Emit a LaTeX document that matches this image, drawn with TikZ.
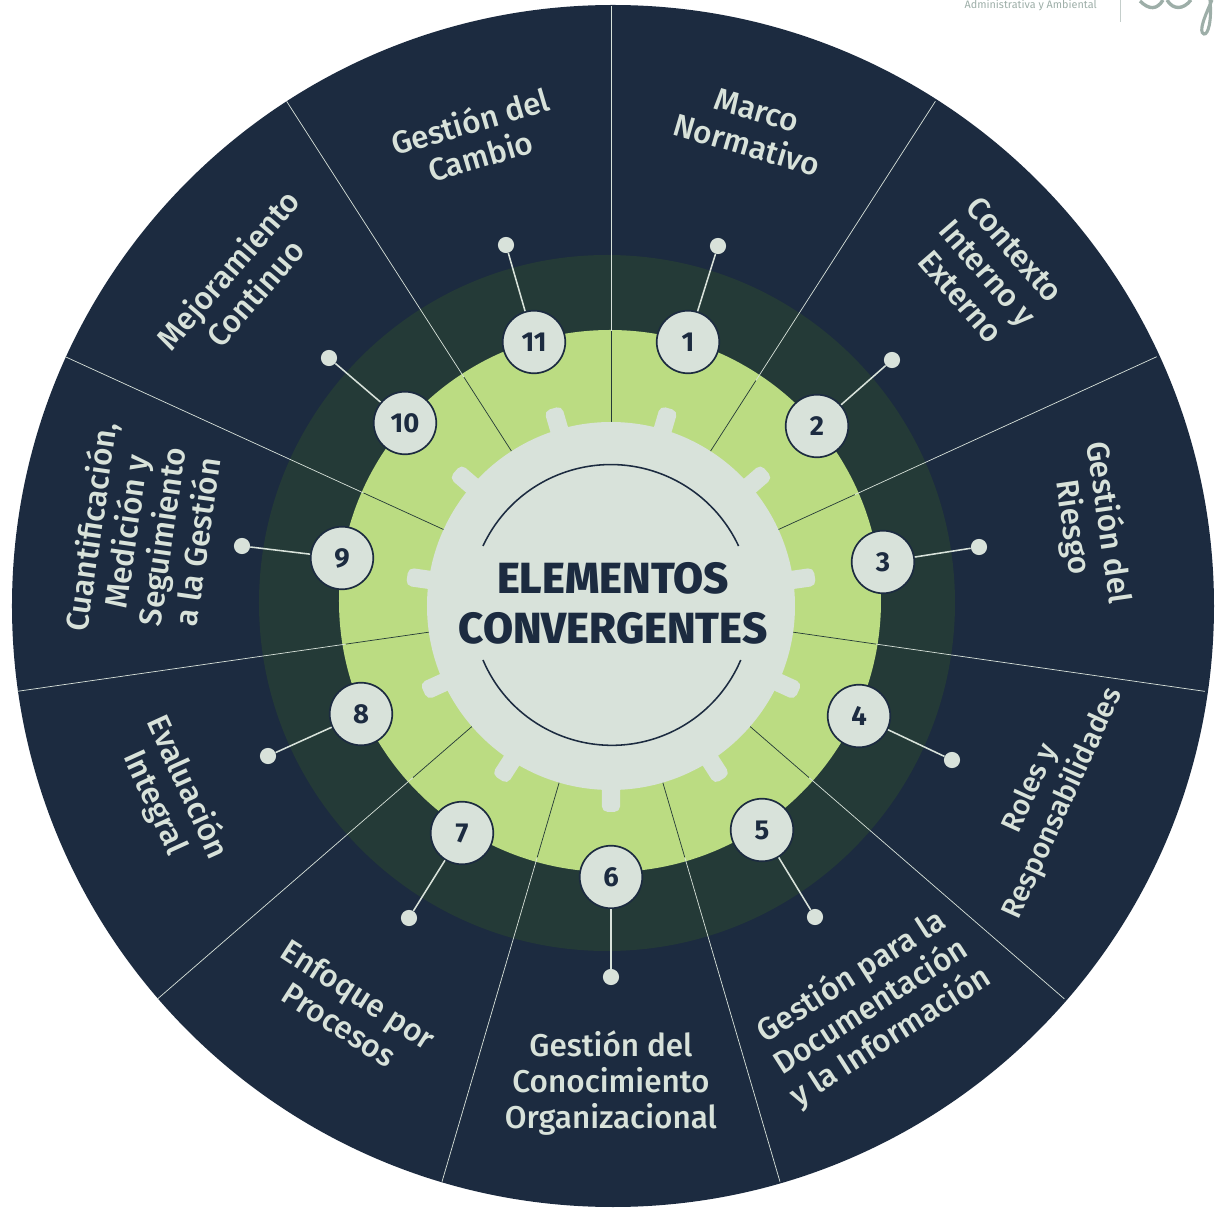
\documentclass[tikz,border=0pt]{standalone}
\usepackage{fontspec}
\setmainfont{Fira Sans}
\newfontfamily\medfont{Fira Sans Medium}
\newfontfamily\heavyfont{Fira Sans ExtraBold}
\definecolor{navy}{HTML}{1C2B40}
\definecolor{darkgreen}{HTML}{243A37}
\definecolor{lime}{HTML}{BBDC82}
\definecolor{pale}{HTML}{D8E2DA}
\definecolor{logogrey}{HTML}{9DAEA8}
\tikzset{
  numbered/.style={circle, draw=navy, fill=pale, line width=1.2pt, minimum size=44.5pt, inner sep=0pt, text=navy, font=\bfseries\fontsize{19.5}{19.5}\selectfont},
  pin/.style={circle, fill=pale, minimum size=11.5pt, inner sep=0pt},
  pinline/.style={draw=pale, line width=1.1pt},
  tooth/.style={fill=pale, rectangle, rounded corners=4pt, minimum width=34pt, minimum height=13pt, inner sep=0pt},
  divider/.style={draw=pale, line width=0.5pt},
  dividerin/.style={draw=darkgreen, line width=0.5pt},
  sector/.style={text=pale, align=center, font=\medfont\fontsize{22.4}{25.5}\selectfont},
}
\begin{document}
\begin{tikzpicture}[x=0.025cm,y=0.025cm]
\useasboundingbox (-611,-604) rectangle (607,606);
% discs
\fill[navy] (2,0) circle (601);
\fill[darkgreen] (-4,3) circle (348);
\fill[lime] (-1,5) circle (271);
% dividers
\draw[divider] (90:275) -- (90:600);
\draw[divider] (57.27:268) -- (57.27:600);
\draw[divider] (24.55:268) -- (24.55:600);
\draw[divider] (-8.18:268) -- (-8.18:600);
\draw[divider] (-40.91:262) -- (-40.91:600);
\draw[divider] (-73.64:262) -- (-73.64:600);
\draw[divider] (-106.36:262) -- (-106.36:600);
\draw[divider] (-139.09:262) -- (-139.09:600);
\draw[divider] (-171.82:268) -- (-171.82:600);
\draw[divider] (155.45:272) -- (155.45:600);
\draw[divider] (122.73:272) -- (122.73:600);
\draw[dividerin] (90:180) -- (90:275);
\draw[dividerin] (57.27:180) -- (57.27:268);
\draw[dividerin] (24.55:180) -- (24.55:268);
\draw[dividerin] (-8.18:180) -- (-8.18:268);
\draw[dividerin] (-40.91:180) -- (-40.91:262);
\draw[dividerin] (-73.64:180) -- (-73.64:262);
\draw[dividerin] (-106.36:180) -- (-106.36:262);
\draw[dividerin] (-139.09:180) -- (-139.09:262);
\draw[dividerin] (-171.82:180) -- (-171.82:268);
\draw[dividerin] (155.45:180) -- (155.45:272);
\draw[dividerin] (122.73:180) -- (122.73:272);
% gear
\node[tooth, rotate=-90] (t1) at (-90:182) {};
\node[tooth, rotate=-57.27] (t2) at (-57.27:182) {};
\node[tooth, rotate=-24.55] (t3) at (-24.55:182) {};
\node[tooth, rotate=8.18] (t4) at (8.18:182) {};
\node[tooth, rotate=40.91] (t5) at (40.91:182) {};
\node[tooth, rotate=73.64] (t6) at (73.64:182) {};
\node[tooth, rotate=106.36] (t7) at (106.36:182) {};
\node[tooth, rotate=139.09] (t8) at (139.09:182) {};
\node[tooth, rotate=171.82] (t9) at (171.82:182) {};
\node[tooth, rotate=204.55] (t10) at (204.55:182) {};
\node[tooth, rotate=237.27] (t11) at (237.27:182) {};
\fill[pale] (0,0) circle (184);
\draw[navy, line width=1.1pt] (-128,60) arc (155:25:141);
\draw[navy, line width=1.1pt] (-128,-54) arc (-157:-23:140);
\node[text=navy, align=center, font=\heavyfont\fontsize{31}{35.5}\selectfont] (title) at (2,3) {ELEMENTOS\\CONVERGENTES};
% pins and numbers
\node[pin] (p1) at (107,360) {};
\node[pin] (p2) at (281,246) {};
\node[pin] (p3) at (368,59) {};
\node[pin] (p4) at (341,-154) {};
\node[pin] (p5) at (204,-311) {};
\node[pin] (p6) at (0,-371) {};
\node[pin] (p7) at (-202,-312) {};
\node[pin] (p8) at (-343,-150) {};
\node[pin] (p9) at (-369,60) {};
\node[pin] (p10) at (-282,248) {};
\node[pin] (p11) at (-105,361) {};
\node[numbered] (n1) at (77,264) {1};
\node[numbered] (n2) at (206,180) {2};
\node[numbered] (n3) at (272,44) {3};
\node[numbered] (n4) at (248,-110) {4};
\node[numbered] (n5) at (151,-224) {5};
\node[numbered] (n6) at (0,-271) {6};
\node[numbered] (n7) at (-149,-227) {7};
\node[numbered] (n8) at (-250,-108) {8};
\node[numbered] (n9) at (-269,48) {9};
\node[numbered] (n10) at (-206,183) {10};
\node[numbered] (n11) at (-77,264) {11};
\draw[pinline] (n1) -- (p1);
\draw[pinline] (n2) -- (p2);
\draw[pinline] (n3) -- (p3);
\draw[pinline] (n4) -- (p4);
\draw[pinline] (n5) -- (p5);
\draw[pinline] (n6) -- (p6);
\draw[pinline] (n7) -- (p7);
\draw[pinline] (n8) -- (p8);
\draw[pinline] (n9) -- (p9);
\draw[pinline] (n10) -- (p10);
\draw[pinline] (n11) -- (p11);
% labels
\node[sector, rotate=-16.4] (s1) at (141,478) {Marco\\Normativo};
\node[sector, rotate=-49] (s2) at (377,333) {Contexto\\Interno y\\Externo};
\node[sector, rotate=-81.8] (s3) at (479,81) {Gestión del\\Riesgo};
\node[sector, rotate=65.5, font=\medfont\fontsize{20.6}{25.5}\selectfont] (s4) at (436,-190) {Roles y\\Responsabilidades};
\node[sector, rotate=32.7] (s5) at (260,-401) {Gestión para la\\Documentación\\y la Información};
\node[sector] (s6) at (0,-477) {Gestión del\\Conocimiento\\Organizacional};
\node[sector, rotate=-32.7] (s7) at (-262,-403) {Enfoque por\\Procesos};
\node[sector, rotate=-65.5] (s8) at (-440,-189) {Evaluación\\Integral};
\node[sector, rotate=81.8] (s9) at (-468,72) {Cuantificación,\\Medición y\\Seguimiento\\a la Gestión};
\node[sector, rotate=49] (s10) at (-370,325) {Mejoramiento\\Continuo};
\node[sector, rotate=16.4] (s11) at (-136,468) {Gestión del\\Cambio};
% header
\node[text=logogrey, font=\fontsize{7.7}{8}\selectfont, anchor=east, inner sep=0pt] (admin) at (486,601) {Administrativa y Ambiental};
\draw[logogrey!60, line width=0.6pt] (509,606) -- (509,584);
\begin{scope}
\clip (507,606) rectangle (607,565);
\draw[logogrey, line width=2.4pt] (529,605) .. controls (538,596) and (546,596) .. (552,606);
\draw[logogrey, line width=2.4pt] (556,606) .. controls (562,596) and (572,596) .. (580,606);
\draw[logogrey, line width=2.2pt] (599,606) .. controls (601,585) and (597,571) .. (593,572) .. controls (587,574) and (594,590) .. (601,606);
\end{scope}
\end{tikzpicture}
\end{document}
